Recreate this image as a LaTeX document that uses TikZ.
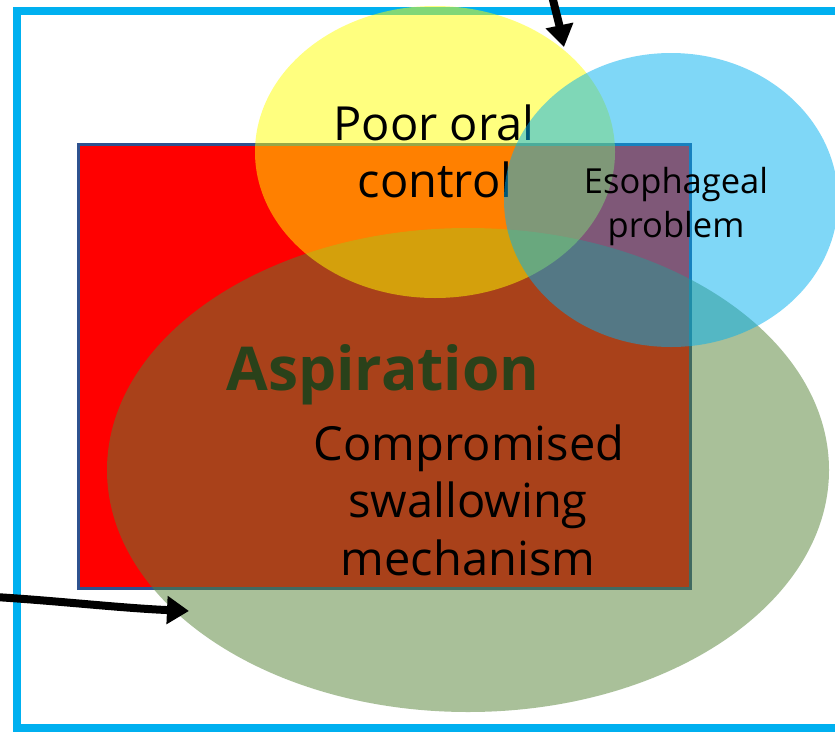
\documentclass[tikz,border=0pt]{standalone}
\usepackage{fontspec}
\setmainfont{Open Sans}
\usetikzlibrary{arrows.meta}
\definecolor{frameblue}{HTML}{00B0F0}
\definecolor{rectborder}{HTML}{2F528F}
\definecolor{vgreen}{HTML}{548235}
\definecolor{vyellow}{HTML}{FFFF00}
\definecolor{vblue}{HTML}{00B0F0}
\tikzset{
  venn/.style={fill opacity=0.5, draw=none},
  lbl/.style={anchor=base, inner sep=0pt, text=black},
  bigtxt/.style={lbl, font=\fontsize{47}{56}\selectfont},
  esotxt/.style={lbl, font=\fontsize{34.5}{40}\selectfont},
  asptxt/.style={lbl, font=\fontsize{60.5}{70}\selectfont\bfseries},
  arr/.style={line width=8pt, -{Triangle[length=22pt,width=27pt]}},
}
\begin{document}
\begin{tikzpicture}[x=1pt,y=-1pt]
\useasboundingbox (0,0) rectangle (835,731);
\clip (0,0) rectangle (835,731);
\fill[white] (0,0) rectangle (835,731);
% outer frame
\draw[frameblue, line width=8pt] (17,11) rectangle (860,728);
% red rectangle
\draw[fill=red, draw=rectborder, line width=3pt] (78,144) rectangle (690,588);
\node[asptxt] (asp) at (383,390) {Aspiration};
% green ellipse
\fill[venn, vgreen] (468,470) ellipse [x radius=361, y radius=242];
\node[bigtxt] (c1) at (469,460) {Compromised};
\node[bigtxt] (c2) at (468,517) {swallowing};
\node[bigtxt] (c3) at (468,575) {mechanism};
% yellow ellipse
\fill[venn, vyellow] (435,152) ellipse [x radius=180, y radius=146];
\node[bigtxt] (p1) at (434,140) {Poor oral};
\node[bigtxt] (p2) at (435,197) {control};
% blue ellipse
\fill[venn, vblue] (671,200) ellipse [x radius=167, y radius=147];
\node[esotxt] (e1) at (676,193) {Esophageal};
\node[esotxt] (e2) at (676,237) {problem};
% arrows
\coordinate (t0) at (552,-4);
\coordinate (t1) at (564,47);
\draw[arr] (t0) .. controls (556,12) and (560,28) .. (t1);
\coordinate (l0) at (-5,597);
\coordinate (l1) at (189,611);
\draw[arr] (l0) .. controls (60,601) and (120,608) .. (l1);
\end{tikzpicture}
\end{document}
